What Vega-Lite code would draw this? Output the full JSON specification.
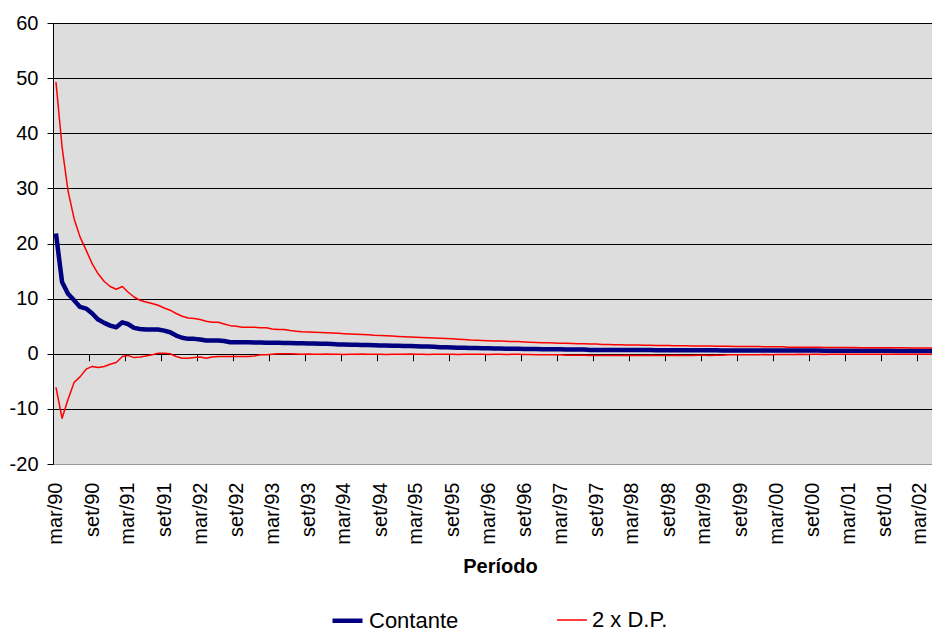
{
  "$schema": "https://vega.github.io/schema/vega-lite/v6.json",
  "width": 879,
  "height": 441,
  "autosize": "none",
  "padding": {"left": 53, "top": 23, "right": 0, "bottom": 169},
  "background": "white",
  "config": {"font": "Liberation Sans", "view": {"fill": "#DDDDDD", "stroke": "#999999", "strokeWidth": 1}},
  "data": {"values": [
    {"d":"1990-03-01","c":21.8,"u":49.3,"l":-6.1},
    {"d":"1990-04-01","c":13.0,"u":37.5,"l":-11.7},
    {"d":"1990-05-01","c":10.9,"u":29.6,"l":-8.3},
    {"d":"1990-06-01","c":9.7,"u":24.5,"l":-5.2},
    {"d":"1990-07-01","c":8.5,"u":21.2,"l":-4.2},
    {"d":"1990-08-01","c":8.2,"u":18.8,"l":-2.8},
    {"d":"1990-09-01","c":7.3,"u":16.3,"l":-2.3},
    {"d":"1990-10-01","c":6.2,"u":14.5,"l":-2.5},
    {"d":"1990-11-01","c":5.6,"u":13.1,"l":-2.3},
    {"d":"1990-12-01","c":5.1,"u":12.2,"l":-1.9},
    {"d":"1991-01-01","c":4.8,"u":11.7,"l":-1.6},
    {"d":"1991-02-01","c":5.7,"u":12.2,"l":-0.5},
    {"d":"1991-03-01","c":5.4,"u":11.2,"l":-0.3},
    {"d":"1991-04-01","c":4.7,"u":10.3,"l":-0.7},
    {"d":"1991-05-01","c":4.5,"u":9.7,"l":-0.6},
    {"d":"1991-06-01","c":4.4,"u":9.4,"l":-0.4},
    {"d":"1991-07-01","c":4.4,"u":9.1,"l":-0.2},
    {"d":"1991-08-01","c":4.4,"u":8.8,"l":0.1},
    {"d":"1991-09-01","c":4.2,"u":8.3,"l":0.1},
    {"d":"1991-10-01","c":3.9,"u":7.9,"l":0.0},
    {"d":"1991-11-01","c":3.3,"u":7.3,"l":-0.5},
    {"d":"1991-12-01","c":2.9,"u":6.8,"l":-0.8},
    {"d":"1992-01-01","c":2.7,"u":6.5,"l":-0.8},
    {"d":"1992-02-01","c":2.7,"u":6.4,"l":-0.7},
    {"d":"1992-03-01","c":2.6,"u":6.2,"l":-0.6},
    {"d":"1992-04-01","c":2.4,"u":5.9,"l":-0.8},
    {"d":"1992-05-01","c":2.4,"u":5.7,"l":-0.6},
    {"d":"1992-06-01","c":2.4,"u":5.7,"l":-0.5},
    {"d":"1992-07-01","c":2.3,"u":5.4,"l":-0.5},
    {"d":"1992-08-01","c":2.1,"u":5.1,"l":-0.5},
    {"d":"1992-09-01","c":2.1,"u":5.0,"l":-0.5},
    {"d":"1992-10-01","c":2.1,"u":4.8,"l":-0.5},
    {"d":"1992-11-01","c":2.1,"u":4.8,"l":-0.5},
    {"d":"1992-12-01","c":2.05,"u":4.8,"l":-0.4},
    {"d":"1993-01-01","c":2.05,"u":4.7,"l":-0.2},
    {"d":"1993-02-01","c":2.0,"u":4.7,"l":-0.2},
    {"d":"1993-03-01","c":2.0,"u":4.5,"l":-0.1},
    {"d":"1993-04-01","c":2.0,"u":4.4,"l":0.0},
    {"d":"1993-05-01","c":1.95,"u":4.4,"l":0.0},
    {"d":"1993-06-01","c":1.95,"u":4.2,"l":0.0},
    {"d":"1993-07-01","c":1.9,"u":4.1,"l":-0.05},
    {"d":"1993-08-01","c":1.9,"u":4.0,"l":-0.1},
    {"d":"1993-09-01","c":1.85,"u":3.95,"l":-0.05},
    {"d":"1993-10-01","c":1.85,"u":3.9,"l":-0.1},
    {"d":"1993-11-01","c":1.8,"u":3.85,"l":-0.1},
    {"d":"1993-12-01","c":1.8,"u":3.8,"l":-0.05},
    {"d":"1994-01-01","c":1.75,"u":3.75,"l":-0.1},
    {"d":"1994-02-01","c":1.7,"u":3.7,"l":-0.1},
    {"d":"1994-03-01","c":1.7,"u":3.65,"l":-0.15},
    {"d":"1994-04-01","c":1.65,"u":3.6,"l":-0.1},
    {"d":"1994-05-01","c":1.65,"u":3.55,"l":-0.1},
    {"d":"1994-06-01","c":1.6,"u":3.5,"l":-0.05},
    {"d":"1994-07-01","c":1.6,"u":3.45,"l":-0.1},
    {"d":"1994-08-01","c":1.55,"u":3.35,"l":-0.1},
    {"d":"1994-09-01","c":1.5,"u":3.3,"l":-0.1},
    {"d":"1994-10-01","c":1.5,"u":3.25,"l":-0.15},
    {"d":"1994-11-01","c":1.45,"u":3.2,"l":-0.1},
    {"d":"1994-12-01","c":1.45,"u":3.15,"l":-0.1},
    {"d":"1995-01-01","c":1.4,"u":3.1,"l":-0.1},
    {"d":"1995-02-01","c":1.4,"u":3.05,"l":-0.05},
    {"d":"1995-03-01","c":1.35,"u":3.0,"l":-0.1},
    {"d":"1995-04-01","c":1.3,"u":2.95,"l":-0.1},
    {"d":"1995-05-01","c":1.3,"u":2.9,"l":-0.15},
    {"d":"1995-06-01","c":1.25,"u":2.85,"l":-0.1},
    {"d":"1995-07-01","c":1.2,"u":2.8,"l":-0.1},
    {"d":"1995-08-01","c":1.2,"u":2.75,"l":-0.1},
    {"d":"1995-09-01","c":1.15,"u":2.7,"l":-0.1},
    {"d":"1995-10-01","c":1.1,"u":2.65,"l":-0.15},
    {"d":"1995-11-01","c":1.1,"u":2.6,"l":-0.1},
    {"d":"1995-12-01","c":1.05,"u":2.5,"l":-0.1},
    {"d":"1996-01-01","c":1.05,"u":2.45,"l":-0.1},
    {"d":"1996-02-01","c":1.0,"u":2.4,"l":-0.1},
    {"d":"1996-03-01","c":1.0,"u":2.35,"l":-0.15},
    {"d":"1996-04-01","c":0.95,"u":2.3,"l":-0.1},
    {"d":"1996-05-01","c":0.95,"u":2.3,"l":-0.1},
    {"d":"1996-06-01","c":0.9,"u":2.25,"l":-0.15},
    {"d":"1996-07-01","c":0.9,"u":2.2,"l":-0.1},
    {"d":"1996-08-01","c":0.9,"u":2.2,"l":-0.1},
    {"d":"1996-09-01","c":0.85,"u":2.15,"l":-0.15},
    {"d":"1996-10-01","c":0.85,"u":2.1,"l":-0.15},
    {"d":"1996-11-01","c":0.85,"u":2.05,"l":-0.2},
    {"d":"1996-12-01","c":0.8,"u":2.0,"l":-0.2},
    {"d":"1997-01-01","c":0.8,"u":2.0,"l":-0.2},
    {"d":"1997-02-01","c":0.8,"u":1.95,"l":-0.2},
    {"d":"1997-03-01","c":0.8,"u":1.9,"l":-0.2},
    {"d":"1997-04-01","c":0.75,"u":1.9,"l":-0.25},
    {"d":"1997-05-01","c":0.75,"u":1.85,"l":-0.25},
    {"d":"1997-06-01","c":0.75,"u":1.8,"l":-0.25},
    {"d":"1997-07-01","c":0.75,"u":1.8,"l":-0.25},
    {"d":"1997-08-01","c":0.7,"u":1.75,"l":-0.3},
    {"d":"1997-09-01","c":0.7,"u":1.75,"l":-0.3},
    {"d":"1997-10-01","c":0.7,"u":1.7,"l":-0.3},
    {"d":"1997-11-01","c":0.7,"u":1.7,"l":-0.3},
    {"d":"1997-12-01","c":0.7,"u":1.65,"l":-0.3},
    {"d":"1998-01-01","c":0.68,"u":1.65,"l":-0.3},
    {"d":"1998-02-01","c":0.68,"u":1.6,"l":-0.25},
    {"d":"1998-03-01","c":0.68,"u":1.6,"l":-0.3},
    {"d":"1998-04-01","c":0.66,"u":1.6,"l":-0.3},
    {"d":"1998-05-01","c":0.66,"u":1.55,"l":-0.3},
    {"d":"1998-06-01","c":0.66,"u":1.55,"l":-0.25},
    {"d":"1998-07-01","c":0.65,"u":1.5,"l":-0.3},
    {"d":"1998-08-01","c":0.65,"u":1.5,"l":-0.3},
    {"d":"1998-09-01","c":0.65,"u":1.5,"l":-0.3},
    {"d":"1998-10-01","c":0.64,"u":1.45,"l":-0.25},
    {"d":"1998-11-01","c":0.64,"u":1.45,"l":-0.3},
    {"d":"1998-12-01","c":0.63,"u":1.45,"l":-0.3},
    {"d":"1999-01-01","c":0.63,"u":1.4,"l":-0.3},
    {"d":"1999-02-01","c":0.63,"u":1.4,"l":-0.25},
    {"d":"1999-03-01","c":0.62,"u":1.4,"l":-0.25},
    {"d":"1999-04-01","c":0.62,"u":1.4,"l":-0.3},
    {"d":"1999-05-01","c":0.62,"u":1.35,"l":-0.25},
    {"d":"1999-06-01","c":0.61,"u":1.35,"l":-0.25},
    {"d":"1999-07-01","c":0.61,"u":1.35,"l":-0.2},
    {"d":"1999-08-01","c":0.61,"u":1.3,"l":-0.2},
    {"d":"1999-09-01","c":0.6,"u":1.3,"l":-0.2},
    {"d":"1999-10-01","c":0.6,"u":1.3,"l":-0.2},
    {"d":"1999-11-01","c":0.6,"u":1.3,"l":-0.2},
    {"d":"1999-12-01","c":0.6,"u":1.3,"l":-0.2},
    {"d":"2000-01-01","c":0.6,"u":1.25,"l":-0.15},
    {"d":"2000-02-01","c":0.59,"u":1.25,"l":-0.2},
    {"d":"2000-03-01","c":0.59,"u":1.25,"l":-0.15},
    {"d":"2000-04-01","c":0.59,"u":1.25,"l":-0.15},
    {"d":"2000-05-01","c":0.58,"u":1.2,"l":-0.15},
    {"d":"2000-06-01","c":0.58,"u":1.2,"l":-0.15},
    {"d":"2000-07-01","c":0.58,"u":1.2,"l":-0.1},
    {"d":"2000-08-01","c":0.57,"u":1.2,"l":-0.15},
    {"d":"2000-09-01","c":0.57,"u":1.2,"l":-0.1},
    {"d":"2000-10-01","c":0.57,"u":1.2,"l":-0.1},
    {"d":"2000-11-01","c":0.56,"u":1.15,"l":-0.15},
    {"d":"2000-12-01","c":0.56,"u":1.15,"l":-0.1},
    {"d":"2001-01-01","c":0.56,"u":1.15,"l":-0.1},
    {"d":"2001-02-01","c":0.55,"u":1.15,"l":-0.1},
    {"d":"2001-03-01","c":0.55,"u":1.15,"l":-0.1},
    {"d":"2001-04-01","c":0.55,"u":1.15,"l":-0.1},
    {"d":"2001-05-01","c":0.54,"u":1.1,"l":-0.1},
    {"d":"2001-06-01","c":0.54,"u":1.1,"l":-0.1},
    {"d":"2001-07-01","c":0.54,"u":1.1,"l":-0.1},
    {"d":"2001-08-01","c":0.53,"u":1.1,"l":-0.1},
    {"d":"2001-09-01","c":0.53,"u":1.1,"l":-0.1},
    {"d":"2001-10-01","c":0.53,"u":1.1,"l":-0.1},
    {"d":"2001-11-01","c":0.52,"u":1.1,"l":-0.1},
    {"d":"2001-12-01","c":0.52,"u":1.1,"l":-0.1},
    {"d":"2002-01-01","c":0.52,"u":1.05,"l":-0.1},
    {"d":"2002-02-01","c":0.51,"u":1.05,"l":-0.1},
    {"d":"2002-03-01","c":0.51,"u":1.05,"l":-0.1},
    {"d":"2002-04-01","c":0.5,"u":1.05,"l":-0.1},
    {"d":"2002-05-01","c":0.5,"u":1.05,"l":-0.1}
  ]},
  "transform": [{"fold": ["c", "u", "l"], "as": ["k", "v"]}],
  "layer": [
    {
      "mark": {"type": "line", "strokeJoin": "round", "strokeCap": "butt"},
      "encoding": {
        "x": {
          "field": "d", "type": "temporal",
          "scale": {"type": "utc", "domain": [{"year": 1990, "month": 2, "date": 14, "utc": true}, {"year": 2002, "month": 5, "date": 1, "utc": true}]},
          "axis": {
            "orient": "bottom",
            "values": [
              {"year":1990,"month":3,"date":1,"utc":true},{"year":1990,"month":9,"date":1,"utc":true},
              {"year":1991,"month":3,"date":1,"utc":true},{"year":1991,"month":9,"date":1,"utc":true},
              {"year":1992,"month":3,"date":1,"utc":true},{"year":1992,"month":9,"date":1,"utc":true},
              {"year":1993,"month":3,"date":1,"utc":true},{"year":1993,"month":9,"date":1,"utc":true},
              {"year":1994,"month":3,"date":1,"utc":true},{"year":1994,"month":9,"date":1,"utc":true},
              {"year":1995,"month":3,"date":1,"utc":true},{"year":1995,"month":9,"date":1,"utc":true},
              {"year":1996,"month":3,"date":1,"utc":true},{"year":1996,"month":9,"date":1,"utc":true},
              {"year":1997,"month":3,"date":1,"utc":true},{"year":1997,"month":9,"date":1,"utc":true},
              {"year":1998,"month":3,"date":1,"utc":true},{"year":1998,"month":9,"date":1,"utc":true},
              {"year":1999,"month":3,"date":1,"utc":true},{"year":1999,"month":9,"date":1,"utc":true},
              {"year":2000,"month":3,"date":1,"utc":true},{"year":2000,"month":9,"date":1,"utc":true},
              {"year":2001,"month":3,"date":1,"utc":true},{"year":2001,"month":9,"date":1,"utc":true},
              {"year":2002,"month":3,"date":1,"utc":true}
            ],
            "labelExpr": "(utcmonth(datum.value) == 2 ? 'mar/' : 'set/') + utcFormat(datum.value, '%y')",
            "labelAngle": -90,
            "labelFontSize": 20,
            "labelColor": "black",
            "labelPadding": 18,
            "labelOverlap": false,
            "labelFlush": false,
            "ticks": false,
            "tickSize": 0,
            "domain": false,
            "grid": false,
            "title": "Período",
            "titleFontSize": 20,
            "titleFontWeight": "bold",
            "titleColor": "black",
            "titlePadding": 12,
            "titleX": 447
          }
        },
        "y": {
          "field": "v", "type": "quantitative",
          "scale": {"domain": [-20, 60], "nice": false, "zero": false},
          "axis": {
            "values": [-20, -10, 0, 10, 20, 30, 40, 50, 60],
            "labelExpr": "datum.value < 0 ? '-' + abs(datum.value) : '' + datum.value",
            "title": null,
            "grid": true,
            "gridColor": {"condition": {"test": "datum.value == -20", "value": "#999999"}, "value": "black"},
            "gridOpacity": 1,
            "gridWidth": 1,
            "domainColor": "black",
            "domainWidth": 1,
            "tickColor": "black",
            "tickSize": 6,
            "labelFontSize": 20,
            "labelColor": "black",
            "labelPadding": 9
          }
        },
        "color": {
          "field": "k", "type": "nominal",
          "scale": {"domain": ["c", "u", "l"], "range": ["#000080", "#FF0000", "#FF0000"]},
          "legend": {
            "values": ["c", "u"],
            "labelExpr": "datum.value == 'c' ? 'Contante' : '2 x D.P.'",
            "title": null,
            "orient": "none",
            "legendX": 277,
            "legendY": 580,
            "direction": "horizontal",
            "symbolType": "stroke",
            "symbolSize": 900,
            "labelFontSize": 22,
            "labelColor": "black",
            "labelOffset": 4,
            "columnPadding": 95,
            "padding": 0
          }
        },
        "strokeWidth": {
          "field": "k", "type": "nominal",
          "scale": {"type": "ordinal", "domain": ["c", "u", "l"], "range": [4.5, 1.5, 1.5]},
          "legend": {
            "values": ["c", "u"],
            "labelExpr": "datum.value == 'c' ? 'Contante' : '2 x D.P.'",
            "title": null,
            "orient": "none",
            "legendX": 277,
            "legendY": 580,
            "direction": "horizontal",
            "symbolType": "stroke",
            "symbolSize": 900,
            "labelFontSize": 22,
            "labelColor": "black",
            "labelOffset": 4,
            "columnPadding": 95,
            "padding": 0
          }
        }
      }
    },
    {
      "mark": {"type": "point", "opacity": 0, "size": 1},
      "encoding": {
        "x": {
          "field": "d", "type": "temporal",
          "axis": {
            "orient": "bottom",
            "offset": -110.25,
            "values": [
              {"year":1990,"month":9,"date":1,"utc":true},
              {"year":1991,"month":3,"date":1,"utc":true},{"year":1991,"month":9,"date":1,"utc":true},
              {"year":1992,"month":3,"date":1,"utc":true},{"year":1992,"month":9,"date":1,"utc":true},
              {"year":1993,"month":3,"date":1,"utc":true},{"year":1993,"month":9,"date":1,"utc":true},
              {"year":1994,"month":3,"date":1,"utc":true},{"year":1994,"month":9,"date":1,"utc":true},
              {"year":1995,"month":3,"date":1,"utc":true},{"year":1995,"month":9,"date":1,"utc":true},
              {"year":1996,"month":3,"date":1,"utc":true},{"year":1996,"month":9,"date":1,"utc":true},
              {"year":1997,"month":3,"date":1,"utc":true},{"year":1997,"month":9,"date":1,"utc":true},
              {"year":1998,"month":3,"date":1,"utc":true},{"year":1998,"month":9,"date":1,"utc":true},
              {"year":1999,"month":3,"date":1,"utc":true},{"year":1999,"month":9,"date":1,"utc":true},
              {"year":2000,"month":3,"date":1,"utc":true},{"year":2000,"month":9,"date":1,"utc":true},
              {"year":2001,"month":3,"date":1,"utc":true},{"year":2001,"month":9,"date":1,"utc":true},
              {"year":2002,"month":3,"date":1,"utc":true}
            ],
            "labels": false,
            "ticks": true,
            "tickSize": 7,
            "tickColor": "black",
            "tickWidth": 1,
            "tickOffset": -3,
            "domain": false,
            "grid": false,
            "title": null
          }
        },
        "y": {"datum": 0}
      }
    }
  ],
  "resolve": {"axis": {"x": "independent"}}
}
